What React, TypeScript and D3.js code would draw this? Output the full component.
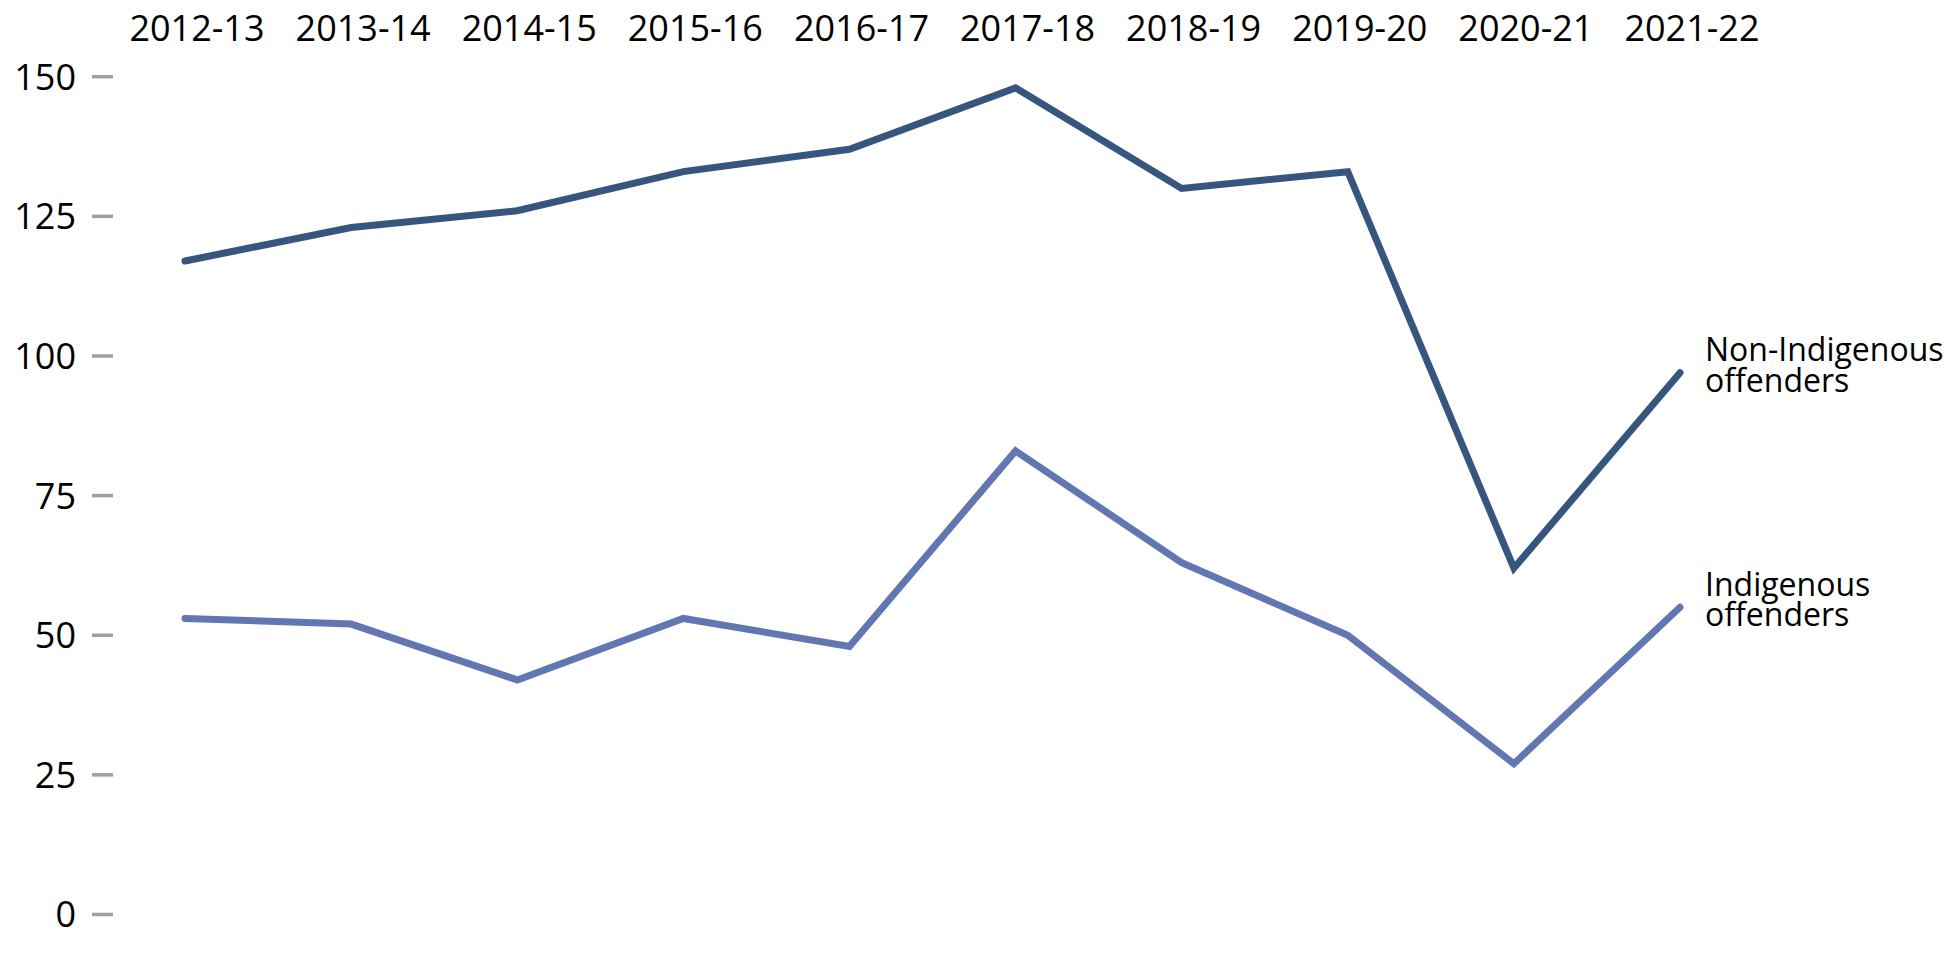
import React from "react";
import * as d3 from "d3";

const categories = ["2012-13","2013-14","2014-15","2015-16","2016-17","2017-18","2018-19","2019-20","2020-21","2021-22"];
const nonIndigenous = [117, 123, 126, 133, 137, 148, 130, 133, 62, 97];
const indigenous = [53, 52, 42, 53, 48, 83, 63, 50, 27, 55];
const yTicks = [0, 25, 50, 75, 100, 125, 150];
const seriesNames = [["Non-Indigenous", "offenders"], ["Indigenous", "offenders"]];
const seriesColors = ["#36567f", "#6276b2"];

const W = 1950, H = 960;
const FONT = "'Open Sans', sans-serif";

export default function App() {
  const x = d3.scalePoint<string>().domain(categories).range([185, 1680]);
  const y = d3.scaleLinear().domain([0, 150]).range([914.5, 76.7]);
  const line = d3.line<number>()
    .x((_, i) => x(categories[i]) as number)
    .y((d) => y(d));
  const series = [nonIndigenous, indigenous];

  return (
    <svg width={W} height={H} style={{ position: "absolute", left: 0, top: 0, background: "#fff" }} fontFamily={FONT}>
      {categories.map((c) => (
        <text key={c} x={(x(c) as number) + 12} y={41} fontSize={36} textAnchor="middle" fill="#000">{c}</text>
      ))}
      {yTicks.map((t) => (
        <g key={t}>
          <line x1={92} x2={113} y1={y(t)} y2={y(t)} stroke="#a0a0a0" strokeWidth={3.5} />
          <text x={76} y={y(t)} dy="0.36em" fontSize={36} textAnchor="end" fill="#000">{t}</text>
        </g>
      ))}
      {series.map((s, k) => (
        <path key={k} d={line(s) || ""} fill="none" stroke={seriesColors[k]} strokeWidth={7}
          strokeLinecap="round" strokeLinejoin="miter" />
      ))}
      {series.map((s, k) => {
        const lx = (x(categories[categories.length - 1]) as number) + 25;
        const ly = y(s[s.length - 1]) - 11.5;
        return (
          <text key={k} x={lx} y={ly} fontSize={32} fill="#000">
            <tspan x={lx}>{seriesNames[k][0]}</tspan>
            <tspan x={lx} dy={30.5}>{seriesNames[k][1]}</tspan>
          </text>
        );
      })}
    </svg>
  );
}
